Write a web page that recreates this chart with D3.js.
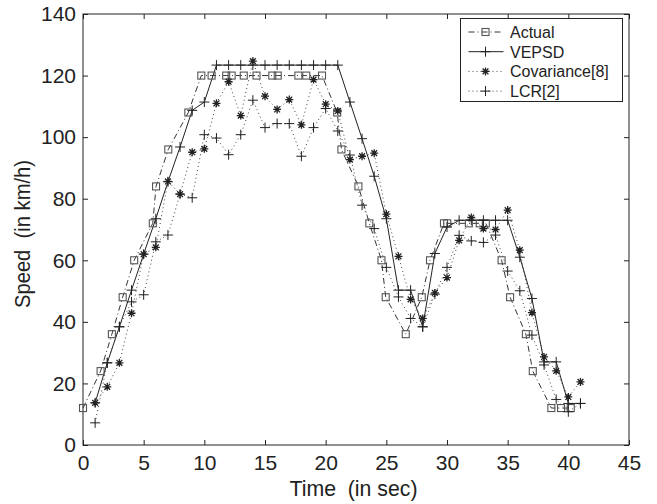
<!DOCTYPE html>
<html>
<head>
<meta charset="utf-8">
<script src="https://cdn.jsdelivr.net/npm/d3@7"></script>
<style>
  html, body { margin: 0; padding: 0; background: #fff; }
  svg text { font-family: "Liberation Sans", Arial, Helvetica, sans-serif; }
</style>
</head>
<body>
<svg id="chart" width="657" height="504"></svg>
<script>
// ---- Data ----
const actualTime = [0, 1.45, 2.38, 3.27, 4.22, 5.75, 6.02, 7.03, 8.68, 9.75, 10.6, 11.8, 12.25, 13.25, 14.3, 15.6, 16.05, 17.75, 18.4, 19.7, 20.95, 21.3, 22.7, 23.6, 24.6, 24.95, 26.6, 27.92, 28.6, 29.75, 30.02, 31.8, 32.7, 33.2, 34.5, 35.2, 36.5, 37.07, 38.6, 39.4, 40.2];
const actualSpeed = [12, 24, 36, 48, 60, 72, 84, 96, 108, 120, 120, 120, 120, 120, 120, 120, 120, 120, 120, 120, 108, 96, 84, 72, 60, 48, 36, 48, 60, 72, 72, 72, 72, 72, 60, 48, 36, 24, 12, 12, 12];

const estTime = d3.range(1, 42); // 1..41 s
const vepsdSpeed = [13.7, 26.7, 38.4, 50.3, 62, 73.5, 85.5, 96.8, 108.7, 111.4, 123.4, 123.4, 123.4, 123.4, 123.4, 123.4, 123.4, 123.4, 123.4, 123.4, 123.4, 111.4, 99.5, 87.3, 73.5, 50.3, 50.3, 38.4, 62.2, 70.8, 73, 73, 73, 73, 73, 61, 47.6, 27, 27, 13.5, 13.5];
const covarianceSpeed = [13.7, 18.9, 26.7, 42.8, 62, 64.2, 85.6, 81.5, 95.1, 96.2, 111, 118, 107, 124.7, 113.3, 109, 112.2, 104, 118.7, 110.7, 108.5, 92.7, 93.8, 94.8, 75, 61.3, 47.3, 41.1, 49.4, 54.4, 66.5, 73.9, 70.3, 70, 76.3, 63.3, 43, 28.6, 24.1, 15.6, 20.5];
const lcrSpeed = [7.2, 26.7, 38.4, 46.5, 48.8, 66, 68.2, 81.5, 80.3, 100.8, 99.7, 94.3, 100.8, 112, 103.1, 104.4, 104.4, 93.8, 103.1, 109.3, 102, 94.2, 77.9, 70.3, 57.7, 48.1, 41.1, 38.4, 49, 57.7, 68.1, 66.3, 65.8, 68.2, 56.5, 50.1, 35.7, 26, 14.8, 10.8, 13.5];

const xTicks = [0, 5, 10, 15, 20, 25, 30, 35, 40, 45];
const yTicks = [0, 20, 40, 60, 80, 100, 120, 140];
const legendLabels = ["Actual", "VEPSD", "Covariance[8]", "LCR[2]"];
const xLabel = "Time  (in sec)";
const yLabel = "Speed  (in km/h)";

// ---- Layout ----
const L = 83, R = 629, T = 14, B = 445;
const svg = d3.select("#chart");
const x = d3.scaleLinear().domain([0, 45]).range([L, R]);
const y = d3.scaleLinear().domain([0, 140]).range([B, T]);

const ink = "#222";

// frame
svg.append("rect").attr("x", L).attr("y", T).attr("width", R - L).attr("height", B - T)
  .attr("fill", "none").attr("stroke", ink).attr("stroke-width", 1);

// axes (ticks inward on all sides)
const tickLen = 5;
const fontSize = 21;
const gx = svg.append("g").attr("transform", `translate(0,${B})`)
  .call(d3.axisBottom(x).tickValues(xTicks).tickSizeInner(-tickLen).tickSizeOuter(0).tickPadding(10).tickFormat(d3.format("d")));
const gxt = svg.append("g").attr("transform", `translate(0,${T})`)
  .call(d3.axisTop(x).tickValues(xTicks).tickSizeInner(-tickLen).tickSizeOuter(0).tickFormat(""));
const gy = svg.append("g").attr("transform", `translate(${L},0)`)
  .call(d3.axisLeft(y).tickValues(yTicks).tickSizeInner(-tickLen).tickSizeOuter(0).tickPadding(7).tickFormat(d3.format("d")));
const gyr = svg.append("g").attr("transform", `translate(${R},0)`)
  .call(d3.axisRight(y).tickValues(yTicks).tickSizeInner(-tickLen).tickSizeOuter(0).tickFormat(""));
[gx, gxt, gy, gyr].forEach(g => {
  g.select(".domain").remove();
  g.selectAll(".tick line").attr("stroke", ink).attr("stroke-width", 1);
  g.selectAll(".tick text").attr("fill", ink).attr("font-size", fontSize)
    .attr("font-family", '"Liberation Sans", Arial, sans-serif');
});

// axis labels
svg.append("text").attr("x", 353.5).attr("y", 496).attr("text-anchor", "middle")
  .attr("font-size", 21.5).attr("fill", ink).style("white-space", "pre")
  .attr("textLength", 128).attr("lengthAdjust", "spacingAndGlyphs").text(xLabel);
svg.append("text").attr("transform", `translate(30,234) rotate(-90)`).attr("text-anchor", "middle")
  .attr("font-size", 22).attr("fill", ink).style("white-space", "pre")
  .attr("textLength", 148).attr("lengthAdjust", "spacingAndGlyphs").text(yLabel);

// ---- markers ----
function square(g, cx, cy) {
  g.append("rect").attr("x", cx - 3.5).attr("y", cy - 3.5).attr("width", 7).attr("height", 7)
    .attr("fill", "none").attr("stroke", "#555").attr("stroke-width", 1.1);
}
function plus(g, cx, cy) {
  const s = 5;
  g.append("path").attr("d", `M${cx - s},${cy}H${cx + s}M${cx},${cy - s}V${cy + s}`)
    .attr("stroke", ink).attr("stroke-width", 1).attr("fill", "none");
}
function star(g, cx, cy) {
  const s = 4, d = 2.9;
  g.append("path").attr("d",
    `M${cx - s},${cy}H${cx + s}M${cx},${cy - s}V${cy + s}M${cx - d},${cy - d}L${cx + d},${cy + d}M${cx - d},${cy + d}L${cx + d},${cy - d}`)
    .attr("stroke", ink).attr("stroke-width", 1.3).attr("fill", "none");
}

const series = [
  { label: legendLabels[0], t: actualTime, v: actualSpeed, dash: "6,3,1,3", marker: square, stroke: "#333" },
  { label: legendLabels[1], t: estTime, v: vepsdSpeed, dash: null, marker: plus, stroke: ink },
  { label: legendLabels[2], t: estTime, v: covarianceSpeed, dash: "1,3", marker: star, stroke: "#444" },
  { label: legendLabels[3], t: estTime, v: lcrSpeed, dash: "1,3", marker: plus, stroke: "#444" }
];

const line = d3.line().x(d => x(d[0])).y(d => y(d[1]));
const plotG = svg.append("g");
series.forEach(s => {
  const pts = s.t.map((t, i) => [t, s.v[i]]);
  plotG.append("path").datum(pts).attr("d", line).attr("fill", "none")
    .attr("stroke", s.stroke).attr("stroke-width", 1)
    .attr("stroke-dasharray", s.dash);
});
series.forEach(s => {
  const g = plotG.append("g");
  s.t.forEach((t, i) => s.marker(g, x(t), y(s.v[i])));
});

// ---- legend ----
const lg = svg.append("g");
const lx = 460.5, ly = 18.5, lw = 162, lh = 83;
lg.append("rect").attr("x", lx).attr("y", ly).attr("width", lw).attr("height", lh)
  .attr("fill", "#fff").attr("stroke", ink).attr("stroke-width", 1);
series.forEach((s, i) => {
  const yy = ly + 13.5 + i * 19.7;
  lg.append("line").attr("x1", lx + 8).attr("x2", lx + 43).attr("y1", yy).attr("y2", yy)
    .attr("stroke", s.stroke).attr("stroke-width", 1).attr("stroke-dasharray", s.dash);
  s.marker(lg, lx + 25, yy);
  lg.append("text").attr("x", lx + 49.5).attr("y", yy + 5.8).attr("font-size", 16)
    .attr("fill", ink).text(s.label);
});
</script>
</body>
</html>
